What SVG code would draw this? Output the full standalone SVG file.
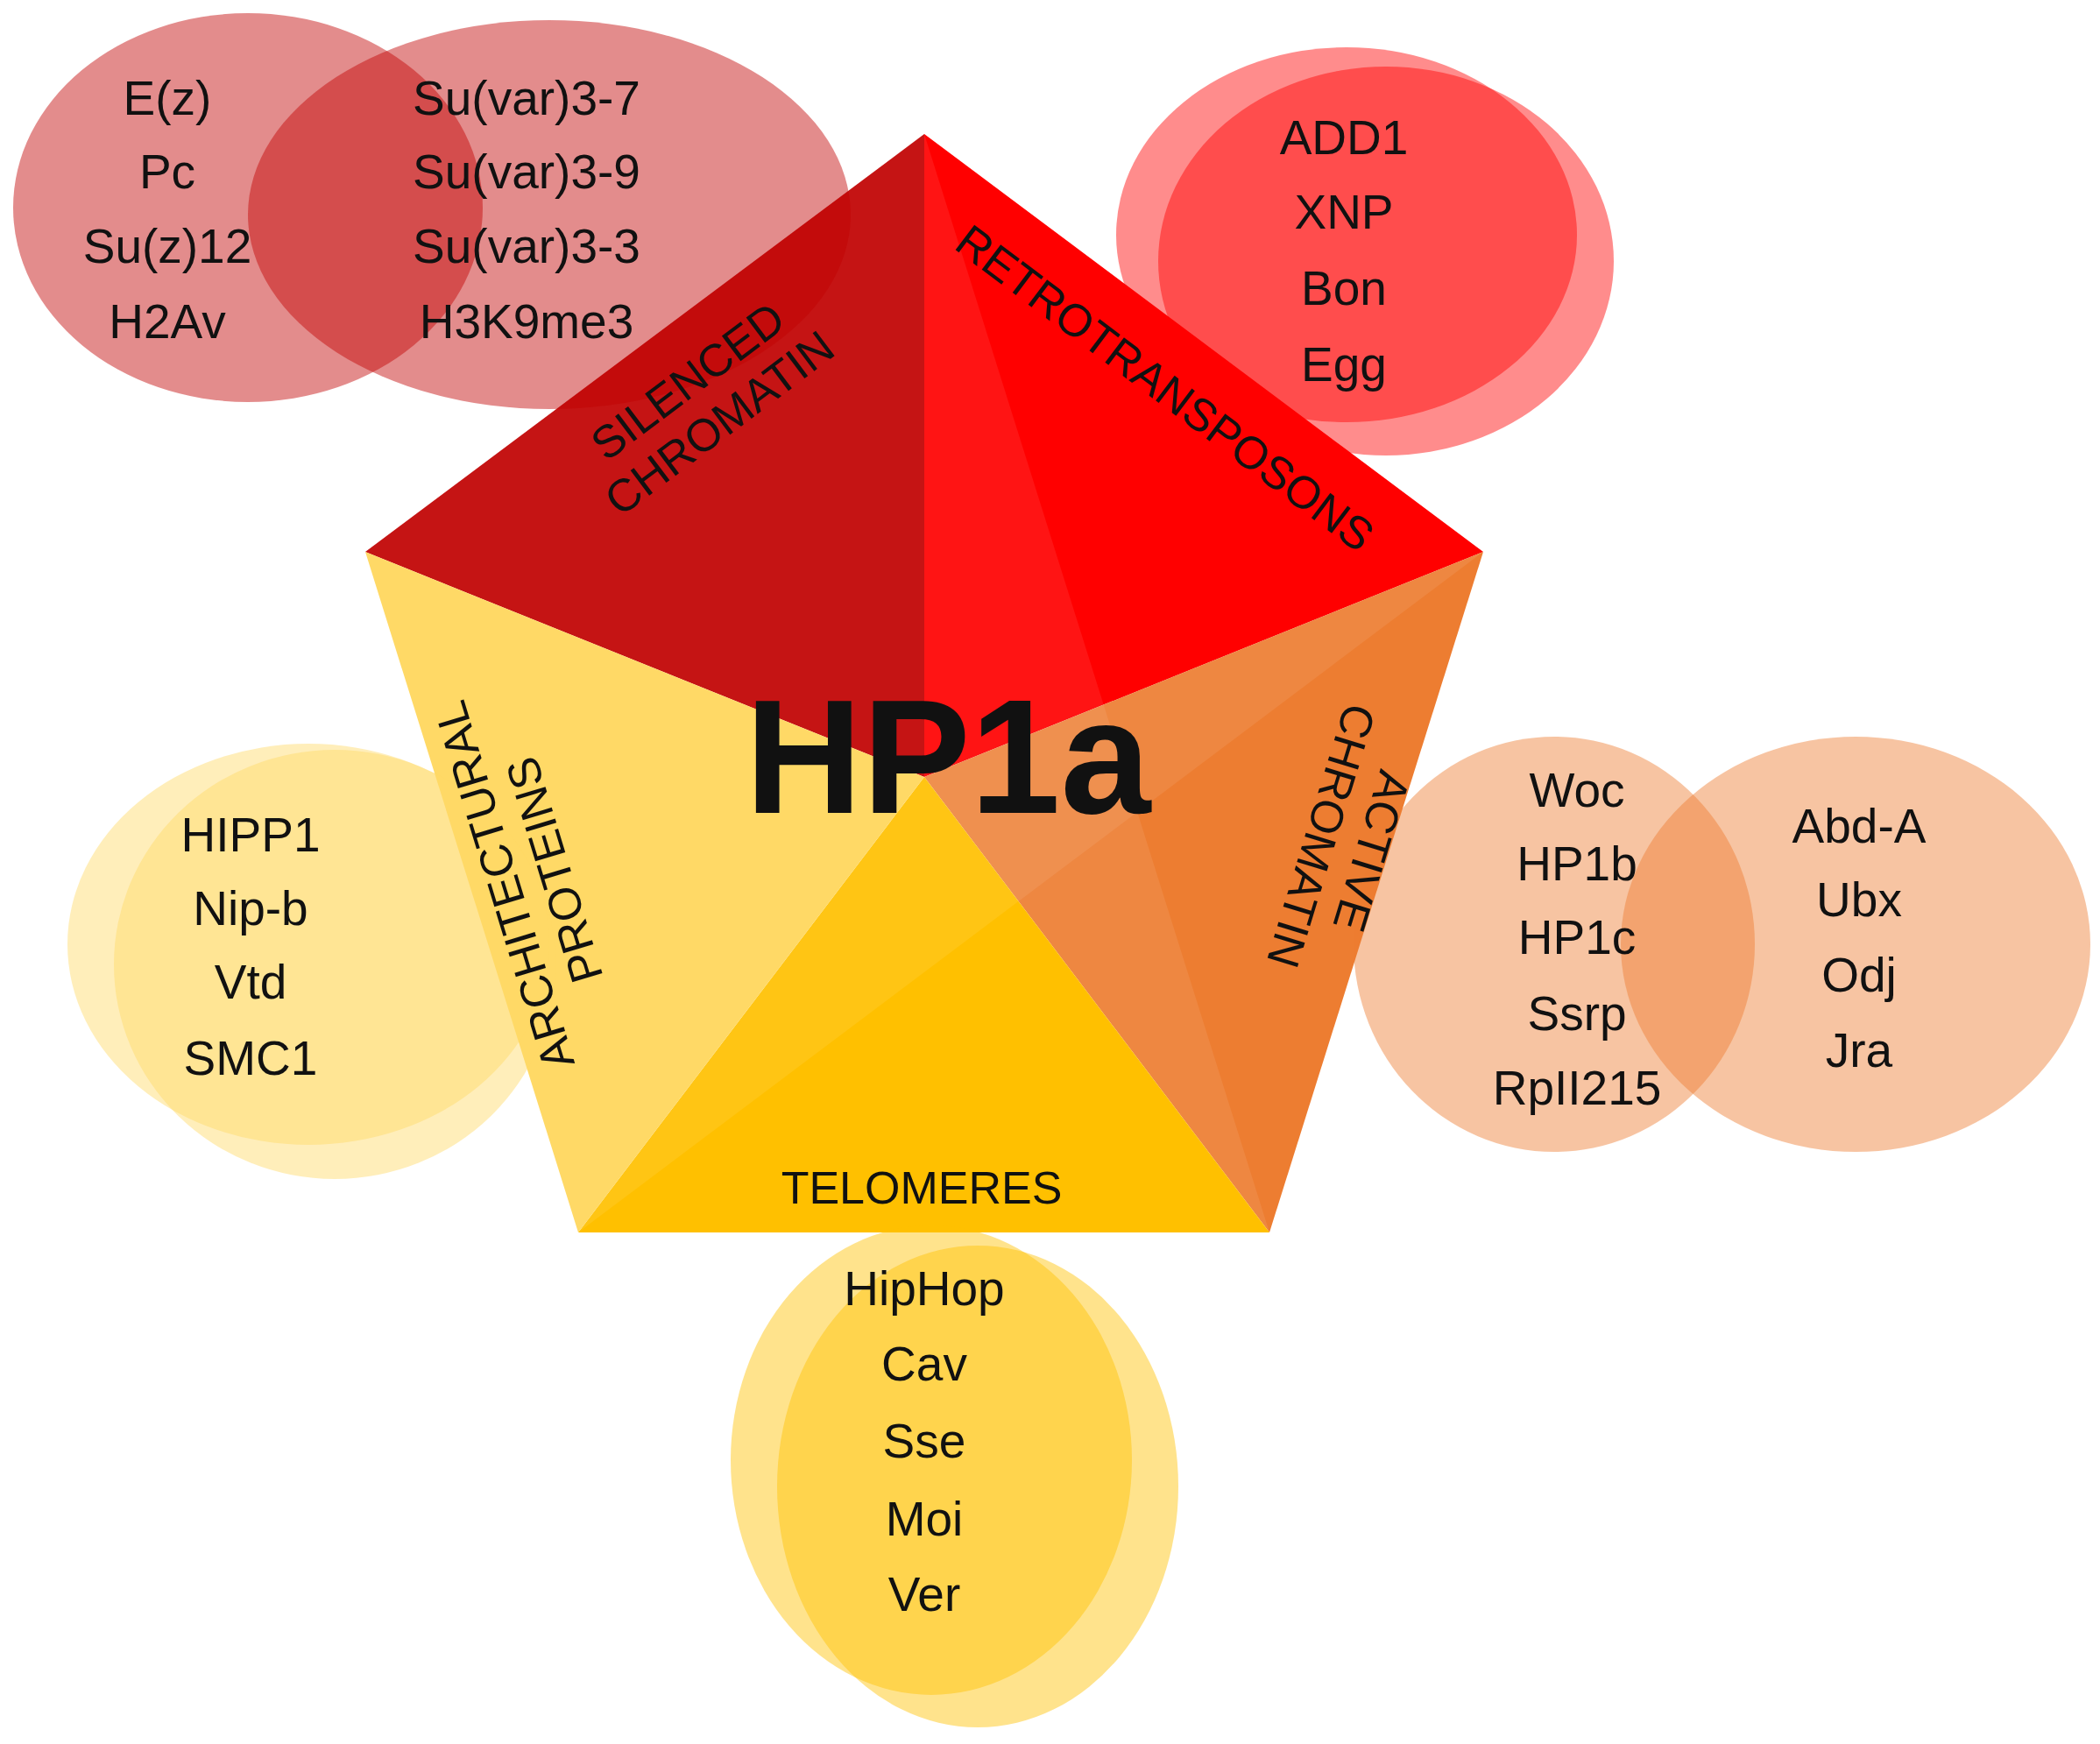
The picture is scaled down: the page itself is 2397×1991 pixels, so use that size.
<svg xmlns="http://www.w3.org/2000/svg" width="2397" height="1991" viewBox="0 0 2397 1991">
<style>
.t{font-family:"Liberation Sans",Arial,sans-serif;font-size:55px;fill:#111;text-anchor:middle;dominant-baseline:central}
.s{font-family:"Liberation Sans",Arial,sans-serif;font-size:52px;fill:#111;text-anchor:middle;dominant-baseline:central}
</style>
<rect width="2397" height="1991" fill="#fff"/>
<g id="pentagon">
<polygon points="1055,153 417,630 1055,887" fill="#c00000"/>
<polygon points="1055,153 1693,630 1055,887" fill="#ff0000"/>
<polygon points="1693,630 1449,1407 1055,887" fill="#ed7d31"/>
<polygon points="1449,1407 660,1407 1055,887" fill="#ffc000"/>
<polygon points="660,1407 417,630 1055,887" fill="#ffd966"/>
<polygon points="1055,153 417,630 1055,887 1449,1407" fill="#fff" opacity="0.08"/>
<polygon points="1693,630 660,1407 1055,887" fill="#fff" opacity="0.08"/>
<text x="1082" y="864" font-family="Liberation Sans,Arial,sans-serif" font-weight="bold" font-size="185" fill="#111" text-anchor="middle" dominant-baseline="central">HP1a</text>
</g>
<g id="silenced">
<ellipse cx="283" cy="237" rx="268" ry="222" fill="#c00000" opacity="0.45"/>
<ellipse cx="627" cy="245" rx="344" ry="222" fill="#c00000" opacity="0.45"/>
<text class="t" x="191" y="112">E(z)</text><text class="t" x="191" y="196">Pc</text><text class="t" x="191" y="281">Su(z)12</text><text class="t" x="191" y="367">H2Av</text>
<text class="t" x="601" y="112">Su(var)3-7</text><text class="t" x="601" y="196">Su(var)3-9</text><text class="t" x="601" y="281">Su(var)3-3</text><text class="t" x="601" y="367">H3K9me3</text>
<g transform="translate(803,459) rotate(-37)"><text class="s" x="0" y="-30">SILENCED</text><text class="s" x="0" y="30">CHROMATIN</text></g>
</g>
<g id="retro">
<ellipse cx="1537" cy="268" rx="263" ry="214" fill="#ff0000" opacity="0.45"/>
<ellipse cx="1582" cy="298" rx="260" ry="222" fill="#ff0000" opacity="0.45"/>
<text class="t" x="1534" y="157">ADD1</text><text class="t" x="1534" y="242">XNP</text><text class="t" x="1534" y="329">Bon</text><text class="t" x="1534" y="416">Egg</text>
<text class="s" transform="translate(1330,443) rotate(37)">RETROTRANSPOSONS</text>
</g>
<g id="active">
<ellipse cx="1774" cy="1078" rx="229" ry="237" fill="#ed7d31" opacity="0.45"/>
<ellipse cx="2118" cy="1078" rx="268" ry="237" fill="#ed7d31" opacity="0.45"/>
<text class="t" x="1800" y="902">Woc</text><text class="t" x="1800" y="986">HP1b</text><text class="t" x="1800" y="1070">HP1c</text><text class="t" x="1800" y="1157">Ssrp</text><text class="t" x="1800" y="1242">RpII215</text>
<text class="t" x="2122" y="943">Abd-A</text><text class="t" x="2122" y="1027">Ubx</text><text class="t" x="2122" y="1113">Odj</text><text class="t" x="2122" y="1199">Jra</text>
<g transform="translate(1537,963) rotate(107)"><text class="s" x="0" y="-30">ACTIVE</text><text class="s" x="0" y="30">CHROMATIN</text></g>
</g>
<g id="architectural">
<ellipse cx="352" cy="1078" rx="275" ry="229" fill="#ffd966" opacity="0.45"/>
<ellipse cx="382" cy="1101" rx="252" ry="245" fill="#ffd966" opacity="0.45"/>
<text class="t" x="286" y="953">HIPP1</text><text class="t" x="286" y="1037">Nip-b</text><text class="t" x="286" y="1121">Vtd</text><text class="t" x="286" y="1208">SMC1</text>
<g transform="translate(604,1002) rotate(-107)"><text class="s" x="0" y="-30">ARCHITECTURAL</text><text class="s" x="0" y="30">PROTEINS</text></g>
</g>
<g id="telomeres">
<ellipse cx="1063" cy="1667" rx="229" ry="268" fill="#ffc000" opacity="0.45"/>
<ellipse cx="1116" cy="1697" rx="229" ry="275" fill="#ffc000" opacity="0.45"/>
<text class="t" x="1055" y="1471">HipHop</text><text class="t" x="1055" y="1557">Cav</text><text class="t" x="1055" y="1645">Sse</text><text class="t" x="1055" y="1734">Moi</text><text class="t" x="1055" y="1820">Ver</text>
<text class="s" x="1052" y="1356">TELOMERES</text>
</g>
<g id="connectors"/>
</svg>
